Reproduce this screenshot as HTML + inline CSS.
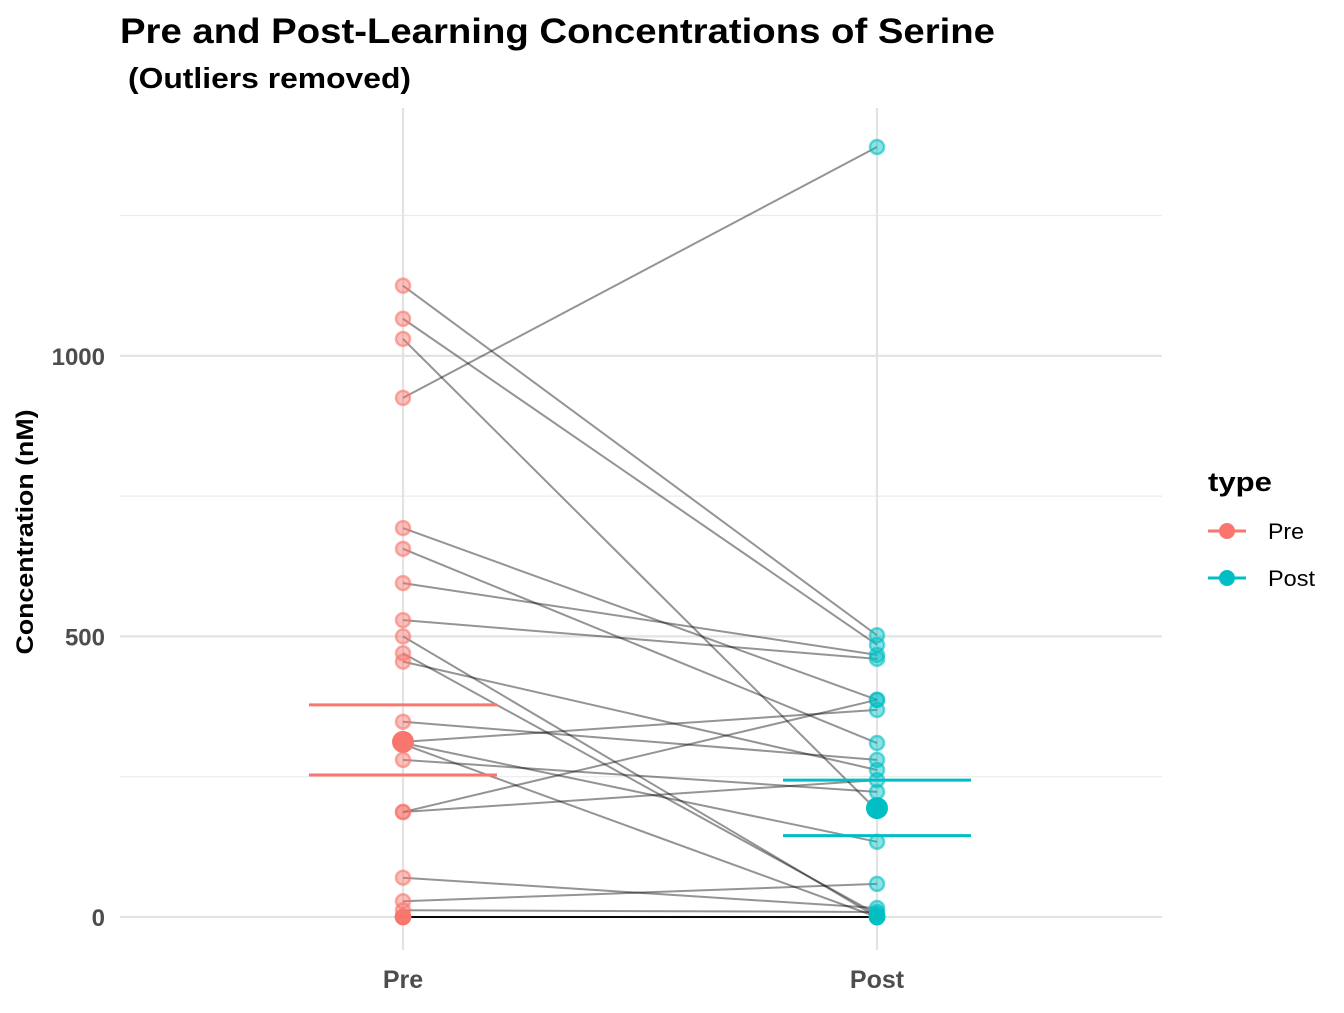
<!DOCTYPE html>
<html><head><meta charset="utf-8"><style>
body{margin:0;background:#fff;font-family:"Liberation Sans",Arial,sans-serif}
</style></head><body>
<svg id="chart" width="1344" height="1008" xmlns="http://www.w3.org/2000/svg">
<text x="120" y="43" font-size="35" font-weight="bold" textLength="875" lengthAdjust="spacingAndGlyphs">Pre and Post-Learning Concentrations of Serine</text>
<text x="128" y="88" font-size="29" font-weight="bold" textLength="283" lengthAdjust="spacingAndGlyphs">(Outliers removed)</text>
<text transform="translate(33,532) rotate(-90)" text-anchor="middle" font-size="24" font-weight="bold" textLength="245" lengthAdjust="spacingAndGlyphs">Concentration (nM)</text>
<g id="grid"></g><g id="lines"></g><g id="points"></g><g id="summary"></g><g id="axes"></g>
<g>
<text x="1208" y="491" font-size="27" font-weight="bold" textLength="64" lengthAdjust="spacingAndGlyphs">type</text>
<g><line x1="1208" x2="1246" y1="531" y2="531" stroke="#F8766D" stroke-width="3"/><circle cx="1227" cy="531" r="8" fill="#F8766D"/><text x="1268" y="539" font-size="22" textLength="36" lengthAdjust="spacingAndGlyphs">Pre</text></g>
<g><line x1="1208" x2="1246" y1="578" y2="578" stroke="#00BFC4" stroke-width="3"/><circle cx="1227" cy="578" r="8" fill="#00BFC4"/><text x="1268" y="586" font-size="22" textLength="47" lengthAdjust="spacingAndGlyphs">Post</text></g>
</g>
</svg>
<script>
const groups=["Pre","Post"];
const preValues=[1125,1066,1030,925,693,656,595,529,500,470,455,348,312,310,308,280,187,187,70,28,12,0,0,0,0,0,0];
const postValues=[502,485,190,1372,387,310,467,460,0,5,262,280,369,134,0,223,387,244,16,59,9,0,0,0,0,0,0];
const groupMeans=[312,194];
const groupUpper=[378,244];
const groupLower=[253,145];
const yTicks=[0,500,1000];
const yMinor=[250,750,1250];
const colors=["#F8766D","#00BFC4"];
const NS="http://www.w3.org/2000/svg";
const yScale=v=>917-v*0.5612;
const xScale=i=>403+i*474;
function mk(tag,attrs,parent){const e=document.createElementNS(NS,tag);for(const k in attrs)e.setAttribute(k,attrs[k]);document.getElementById(parent).appendChild(e);return e;}
yMinor.forEach(t=>{const e=mk('line',{x1:120,x2:1162,y1:yScale(t),y2:yScale(t),stroke:'#ebebeb','stroke-width':1.2},'grid');

});
yTicks.forEach(t=>{const e=mk('line',{x1:120,x2:1162,y1:yScale(t),y2:yScale(t),stroke:'#e3e3e3','stroke-width':2.2},'grid');


const l=mk('text',{x:105,y:yScale(t)+9,'text-anchor':'end','font-size':24,'font-weight':'bold',fill:'#4d4d4d'},'axes');l.textContent=t;

});
groups.forEach((g,i)=>{const e=mk('line',{x1:xScale(i),x2:xScale(i),y1:108,y2:950,stroke:'#e3e3e3','stroke-width':2.2},'grid');


const l=mk('text',{x:xScale(i),y:988,'text-anchor':'middle','font-size':25,'font-weight':'bold',fill:'#4d4d4d'},'axes');l.textContent=g;

});
preValues.forEach((v,k)=>{const e=mk('line',{x1:xScale(0),x2:xScale(1),y1:yScale(v),y2:yScale(postValues[k]),stroke:'#000','stroke-opacity':0.42,'stroke-width':2},'lines');

});
[preValues,postValues].forEach((arr,i)=>arr.forEach(v=>{const c=mk('circle',{cx:xScale(i),cy:yScale(v),r:7,fill:colors[i],'fill-opacity':0.45,stroke:colors[i],'stroke-opacity':0.6,'stroke-width':2.5},'points');

}));
groups.forEach((g,i)=>{[groupUpper[i],groupLower[i]].forEach(v=>{const e=mk('line',{x1:xScale(i)-94,x2:xScale(i)+94,y1:yScale(v),y2:yScale(v),stroke:colors[i],'stroke-width':3},'summary');

});
const m=mk('circle',{cx:xScale(i),cy:yScale(groupMeans[i]),r:11,fill:colors[i]},'summary');

});
</script>
</body></html>
